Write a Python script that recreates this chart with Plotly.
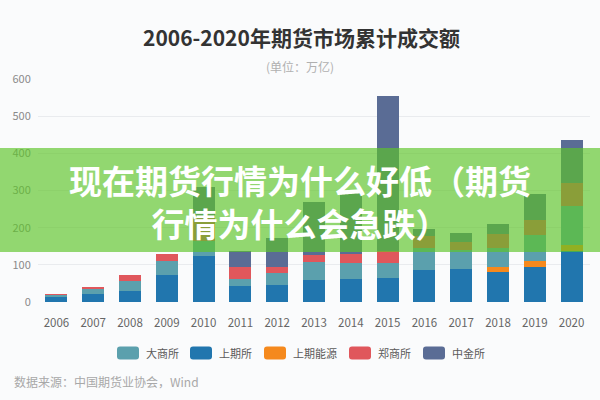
import plotly.graph_objects as go

# ---------------- data ----------------
years = ["2006", "2007", "2008", "2009", "2010", "2011", "2012", "2013",
         "2014", "2015", "2016", "2017", "2018", "2019", "2020"]
shfe = [12.6, 22, 28.6, 73.8, 123.5, 43, 44.6, 60.3, 63.0, 63.6, 84.9, 89.0, 80, 94, 136]
ine = [0, 0, 0, 0, 0, 0, 0, 0, 0, 0, 0, 0, 13.3, 17, 17.6]
dce = [6.3, 14, 27.7, 37.2, 41.7, 18, 33.6, 47.2, 41.6, 41.9, 61.2, 52, 52.2, 69, 105.5]
zce = [2.1, 5, 15.6, 19.5, 61.7, 33, 17.3, 19.5, 23.4, 31.0, 30.9, 21.4, 38.2, 40, 62]
cffex = [0, 0, 0, 0, 82.1, 43, 75.8, 141.0, 164.0, 417.8, 18.2, 24.6, 26.1, 69.6, 115.6]

series_names = {"dce": "大商所", "shfe": "上期所", "ine": "上期能源", "zce": "郑商所", "cffex": "中金所"}
colors = {"dce": "#5ba0ad", "shfe": "#2176ae", "ine": "#f5891d", "zce": "#e0575c", "cffex": "#5a6c95"}
stack_order = [("shfe", shfe), ("ine", ine), ("dce", dce), ("zce", zce), ("cffex", cffex)]
legend_order = ["dce", "shfe", "ine", "zce", "cffex"]

title_text = "2006-2020年期货市场累计成交额"
subtitle_text = "(单位：万亿)"
source_text = "数据来源：中国期货业协会，Wind"
banner_lines = ["现在期货行情为什么好低（期货", "行情为什么会急跌）"]

# ---------------- layout geometry ----------------
W, H = 600, 400
L, R, T, B = 38, 10, 79, 98
PW, PH = W - L - R, H - T - B
FONT = "Noto Sans CJK SC"


def px(x):
    return (x - L) / PW


def py(y):
    return (H - B - y) / PH


fig = go.Figure()
for key, vals in stack_order:
    fig.add_trace(go.Bar(x=years, y=vals, name=series_names[key],
                         marker=dict(color=colors[key], line=dict(width=0)),
                         showlegend=False))

shapes = []
annotations = []

# banner overlay
shapes.append(dict(type="rect", xref="paper", yref="paper",
                   x0=px(0), x1=px(W), y0=py(252), y1=py(148),
                   fillcolor="rgba(92,196,40,0.66)", line=dict(width=0), layer="above"))

# custom legend
leg_x = [117, 190, 264, 349, 423]
leg_y = 353
sw_w, sw_h, rad = 22, 13, 3
for key, x0 in zip(legend_order, leg_x):
    x1 = x0 + sw_w
    yt, yb = leg_y - sw_h / 2, leg_y + sw_h / 2
    path = (f"M{px(x0+rad)},{py(yt)} L{px(x1-rad)},{py(yt)} Q{px(x1)},{py(yt)} {px(x1)},{py(yt+rad)} "
            f"L{px(x1)},{py(yb-rad)} Q{px(x1)},{py(yb)} {px(x1-rad)},{py(yb)} "
            f"L{px(x0+rad)},{py(yb)} Q{px(x0)},{py(yb)} {px(x0)},{py(yb-rad)} "
            f"L{px(x0)},{py(yt+rad)} Q{px(x0)},{py(yt)} {px(x0+rad)},{py(yt)} Z")
    shapes.append(dict(type="path", xref="paper", yref="paper", path=path,
                       fillcolor=colors[key], line=dict(width=0)))
    annotations.append(dict(text=series_names[key], xref="paper", yref="paper",
                            x=px(x1 + 5), y=py(leg_y), xanchor="left", yanchor="middle",
                            showarrow=False, font=dict(family=FONT, size=11, color="#5a5a5a")))

# titles
annotations.append(dict(text=f"<b>{title_text}</b>", xref="paper", yref="paper",
                        x=px(301), y=py(37), xanchor="center", yanchor="middle", showarrow=False,
                        font=dict(family=FONT, size=21, color="#333333")))
annotations.append(dict(text=subtitle_text, xref="paper", yref="paper",
                        x=px(300), y=py(66), xanchor="center", yanchor="middle", showarrow=False,
                        font=dict(family=FONT, size=12, color="#b0b0b0")))
annotations.append(dict(text=source_text, xref="paper", yref="paper",
                        x=px(12), y=py(381), xanchor="left", yanchor="middle", showarrow=False,
                        font=dict(family=FONT, size=12, color="#a8a8a8")))
# banner text (single block, two lines)
annotations.append(dict(text="<b>" + "<br>".join(banner_lines) + "</b>", xref="paper", yref="paper",
                        x=px(300), y=py(201), xanchor="center", yanchor="middle", showarrow=False,
                        align="center", font=dict(family=FONT, size=33, color="#ffffff")))

fig.update_layout(
    width=W, height=H,
    margin=dict(l=L, r=R, t=T, b=B, pad=0),
    barmode="stack", bargap=0.4,
    paper_bgcolor="#fafbfc", plot_bgcolor="#fafbfc",
    showlegend=False,
    shapes=shapes, annotations=annotations,
    font=dict(family=FONT),
)
fig.update_xaxes(showgrid=False, showline=False, zeroline=False,
                 ticks="outside", ticklen=10, tickcolor="rgba(0,0,0,0)",
                 tickfont=dict(family=FONT, size=11.5, color="#666666"))
fig.update_yaxes(range=[0, 600], dtick=100, showgrid=True, gridcolor="#e9ebee", gridwidth=1,
                 zeroline=False, showline=False,
                 ticks="outside", ticklen=4, tickcolor="rgba(0,0,0,0)",
                 tickfont=dict(family=FONT, size=11, color="#8a8a8a"))

fig.write_html("out.html")
